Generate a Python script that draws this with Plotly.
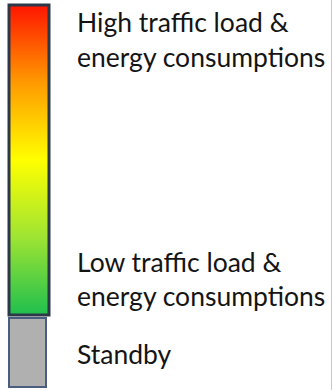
import plotly.graph_objects as go

# ---- data ----
load_stops = [0.0, 0.25, 0.5, 0.75, 1.0]          # low -> high traffic load
load_colors = ["#1fbf4e", "#9ee433", "#ffff00", "#ff9a00", "#ff1500"]
standby_stops = [0.0, 1.0]
standby_colors = ["#b0b0b0", "#b0b0b0"]
label_lines = ["High traffic load &", "energy consumptions",
               "Low traffic load &", "energy consumptions",
               "Standby"]
label_y_px = [22, 57, 262, 296, 354]

W, H = 332, 390

def px_x(v):
    return v / W

def px_y(v):
    return 1 - v / H

fig = go.Figure()

# gradient scale (traffic load / energy consumption)
fig.add_trace(go.Scatter(
    x=[None], y=[None], mode="markers", showlegend=False, hoverinfo="skip",
    marker=dict(
        color=[load_stops[0]], cmin=load_stops[0], cmax=load_stops[-1],
        colorscale=[[s, c] for s, c in zip(load_stops, load_colors)],
        showscale=True,
        colorbar=dict(
            x=px_x(8.5), xanchor="left", xpad=0,
            y=px_y(5.5), yanchor="top", ypad=0,
            thicknessmode="pixels", thickness=40,
            lenmode="pixels", len=310,
            outlinecolor="#2c3848", outlinewidth=3,
            showticklabels=False, ticks="",
        ),
    ),
))

# standby box
fig.add_trace(go.Scatter(
    x=[None], y=[None], mode="markers", showlegend=False, hoverinfo="skip",
    yaxis="y2",
    marker=dict(
        color=[standby_stops[0]], cmin=standby_stops[0], cmax=standby_stops[-1],
        colorscale=[[s, c] for s, c in zip(standby_stops, standby_colors)],
        showscale=True,
        colorbar=dict(
            x=px_x(9), xanchor="left", xpad=0,
            y=px_y(318), yanchor="top", ypad=0,
            thicknessmode="pixels", thickness=37,
            lenmode="pixels", len=69,
            outlinecolor="#4a5d7e", outlinewidth=2,
            showticklabels=False, ticks="",
        ),
    ),
))

for txt, yp in zip(label_lines, label_y_px):
    fig.add_annotation(
        text=txt, xref="paper", yref="paper",
        x=px_x(75), y=px_y(yp), xanchor="left", yanchor="middle",
        showarrow=False,
        font=dict(family="Lato", size=26.5, color="#141414"),
    )

fig.update_layout(
    width=W, height=H, autosize=False,
    margin=dict(l=0, r=0, t=0, b=0),
    paper_bgcolor="white", plot_bgcolor="white",
    xaxis=dict(visible=False, range=[0, 1]),
    yaxis=dict(visible=False, range=[0, 1]),
    yaxis2=dict(
        overlaying="y", anchor="free", side="right", position=px_x(330.5),
        showline=True, linecolor="#c8c8c8", linewidth=1,
        showgrid=False, zeroline=False, showticklabels=False, ticks="",
        range=[0, 1],
    ),
)

fig.write_html("out.html", config={"displayModeBar": False},
               post_script="document.body.style.margin='0';")
